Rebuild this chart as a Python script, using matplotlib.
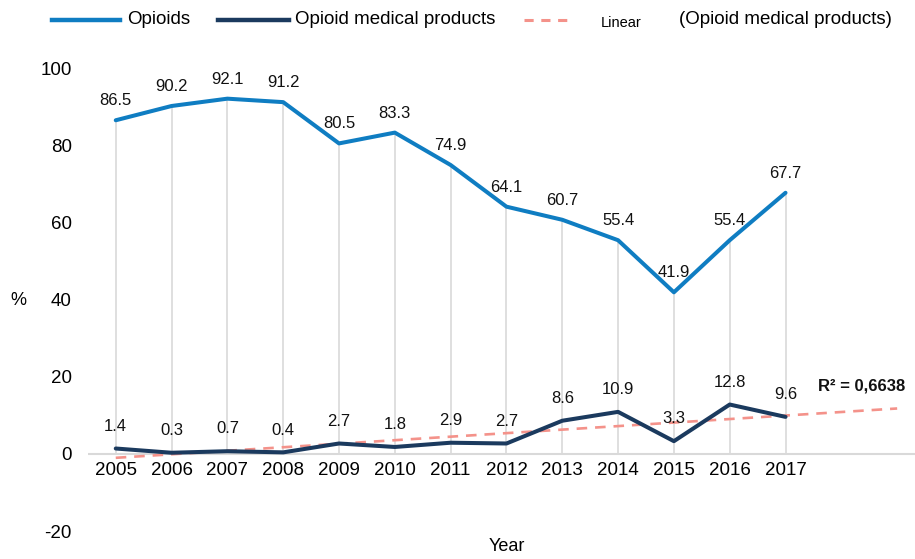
import numpy as np
import matplotlib
matplotlib.use("Agg")
import matplotlib.pyplot as plt
import matplotlib.transforms as mtrans
from matplotlib.lines import Line2D

plt.rcParams['font.family'] = ['Liberation Sans', 'DejaVu Sans']
plt.rcParams['axes.unicode_minus'] = False

years = ['2005', '2006', '2007', '2008', '2009', '2010', '2011',
         '2012', '2013', '2014', '2015', '2016', '2017']
opioids = [86.5, 90.2, 92.1, 91.2, 80.5, 83.3, 74.9, 64.1, 60.7, 55.4, 41.9, 55.4, 67.7]
medical = [1.4, 0.3, 0.7, 0.4, 2.7, 1.8, 2.9, 2.7, 8.6, 10.9, 3.3, 12.8, 9.6]
r2_text = 'R² = 0,6638'

c_op = '#0F7DC2'
c_med = '#1B3A5E'
c_trend = '#F4928A'
c_grid = '#D9D9D9'

x = np.arange(len(years))

# linear trendline, excel-style with 2 periods forward
coef = np.polyfit(x, medical, 1)
xt = np.arange(len(years) + 2)
yt = np.polyval(coef, xt)

fig = plt.figure(figsize=(9.15, 5.59), dpi=100)
ax = fig.add_axes([0.096, 0.050, 0.915, 0.828])

# drop lines from opioid values down to zero
ax.vlines(x, 0, opioids, color=c_grid, lw=1.2, zorder=1)

ax.plot(x, opioids, color=c_op, lw=2.9, solid_capstyle='round', zorder=3)
ax.plot(x, medical, color=c_med, lw=2.9, solid_capstyle='round', zorder=3)
ax.plot(xt, yt, color=c_trend, lw=1.9, ls=(0, (4, 3)), zorder=2)

for xi, v in zip(x, opioids):
    ax.annotate(f'{v}', (xi, v), xytext=(0, 14), textcoords='offset points',
                ha='center', va='center', fontsize=12, color='#111111')
for xi, v in zip(x, medical):
    ax.annotate(f'{v}', (xi, v), xytext=(0, 16), textcoords='offset points',
                ha='center', va='center', fontsize=12, color='#111111')

ax.text(13.36, 17.6, r2_text, ha='center', va='center', fontsize=12,
        fontweight='bold', color='#111111')

ax.set_xlim(-0.5, 14.5)
ax.set_ylim(-20, 100)
ax.set_yticks([-20, 0, 20, 40, 60, 80, 100])
ax.tick_params(axis='y', length=0, pad=11.5, labelsize=13.5)
ax.tick_params(axis='x', length=0, labelsize=13.5)
ax.set_xticks(x)
ax.set_xticklabels(years)

for s in ['left', 'right', 'top', 'bottom']:
    ax.spines[s].set_visible(False)
ax.axhline(0, color=c_grid, lw=1.5, zorder=0)
# x tick labels sit just under the zero line
for lbl in ax.get_xticklabels():
    lbl.set_transform(ax.transData
                      + mtrans.ScaledTranslation(0, -0.17, fig.dpi_scale_trans))
    lbl.set_y(0)
    lbl.set_va('center')

fig.text(0.554, 0.023, 'Year', ha='center', va='center', fontsize=13)
fig.text(0.020, 0.463, '%', ha='center', va='center', fontsize=13)

# legend drawn by hand to follow the original layout
ly = 1 - 20 / 559
fig.add_artist(Line2D([52 / 915, 120 / 915], [ly, ly], color=c_op, lw=3.2,
                      transform=fig.transFigure))
fig.text(127 / 915, ly, 'Opioids', ha='left', va='center', fontsize=13.5)
fig.add_artist(Line2D([218 / 915, 289 / 915], [ly, ly], color=c_med, lw=3.2,
                      transform=fig.transFigure))
fig.text(295 / 915, ly, 'Opioid medical products', ha='left', va='center',
         fontsize=13.5)
fig.add_artist(Line2D([524 / 915, 572 / 915], [ly, ly], color=c_trend, lw=2.2,
                      ls=(0, (3, 2.5)), transform=fig.transFigure))
fig.text(601 / 915, 1 - 23 / 559, 'Linear', ha='left', va='center', fontsize=10.5)
fig.text(679 / 915, ly, '(Opioid medical products)', ha='left', va='center',
         fontsize=13.5)

fig.savefig('out.png', dpi=100)
